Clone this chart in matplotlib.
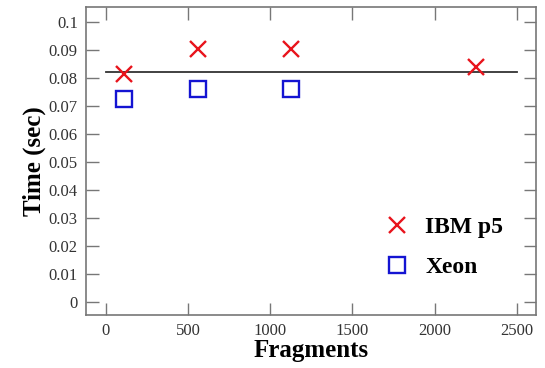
import numpy as np
import matplotlib
matplotlib.use('Agg')
import matplotlib.pyplot as plt

plt.rcParams['font.family'] = ['Liberation Serif', 'DejaVu Serif']

# Datos
fragmentos_ibm = [112, 562, 1125, 2250]
tiempo_ibm = [0.0816, 0.0902, 0.0902, 0.0839]
fragmentos_xeon = [112, 562, 1125]
tiempo_xeon = [0.0725, 0.0762, 0.0762]
linea_x = [0, 2500]
linea_y = [0.0821, 0.0821]

fig = plt.figure(figsize=(5.45, 3.68), dpi=100)
ax = fig.add_axes([0.158, 0.144, 0.825, 0.837])

ax.plot(linea_x, linea_y, color='#333333', lw=1.3, zorder=1)
ax.plot(fragmentos_ibm, tiempo_ibm, ls='none', marker='x', ms=11, mew=1.7,
        color='#e8141c', label='IBM p5')
ax.plot(fragmentos_xeon, tiempo_xeon, ls='none', marker='s', ms=12, mew=1.7,
        mfc='none', mec='#1414d2', label='Xeon')

ax.set_xlim(-120, 2615)
ax.set_ylim(-0.0048, 0.1054)
ax.set_xticks([0, 500, 1000, 1500, 2000, 2500])
ax.set_yticks(np.arange(0, 0.101, 0.01))
ax.set_yticklabels(['0', '0.01', '0.02', '0.03', '0.04', '0.05', '0.06',
                    '0.07', '0.08', '0.09', '0.1'])
ax.tick_params(direction='in', length=9, width=1, color='#777777',
               top=True, right=True, labelsize=12, labelcolor='#333333', pad=6)
for s in ax.spines.values():
    s.set_color('#777777')
    s.set_linewidth(1.2)

ax.set_xlabel('Fragments', fontsize=18, fontweight='bold', labelpad=0)
ax.set_ylabel('Time (sec)', fontsize=18, fontweight='bold', labelpad=2)

ax.legend(loc='lower right', bbox_to_anchor=(0.975, 0.05), frameon=False,
          prop={'weight': 'bold', 'size': 17}, labelspacing=0.8,
          handlelength=1.0, handletextpad=0.7)

fig.savefig('out.png', dpi=100)
